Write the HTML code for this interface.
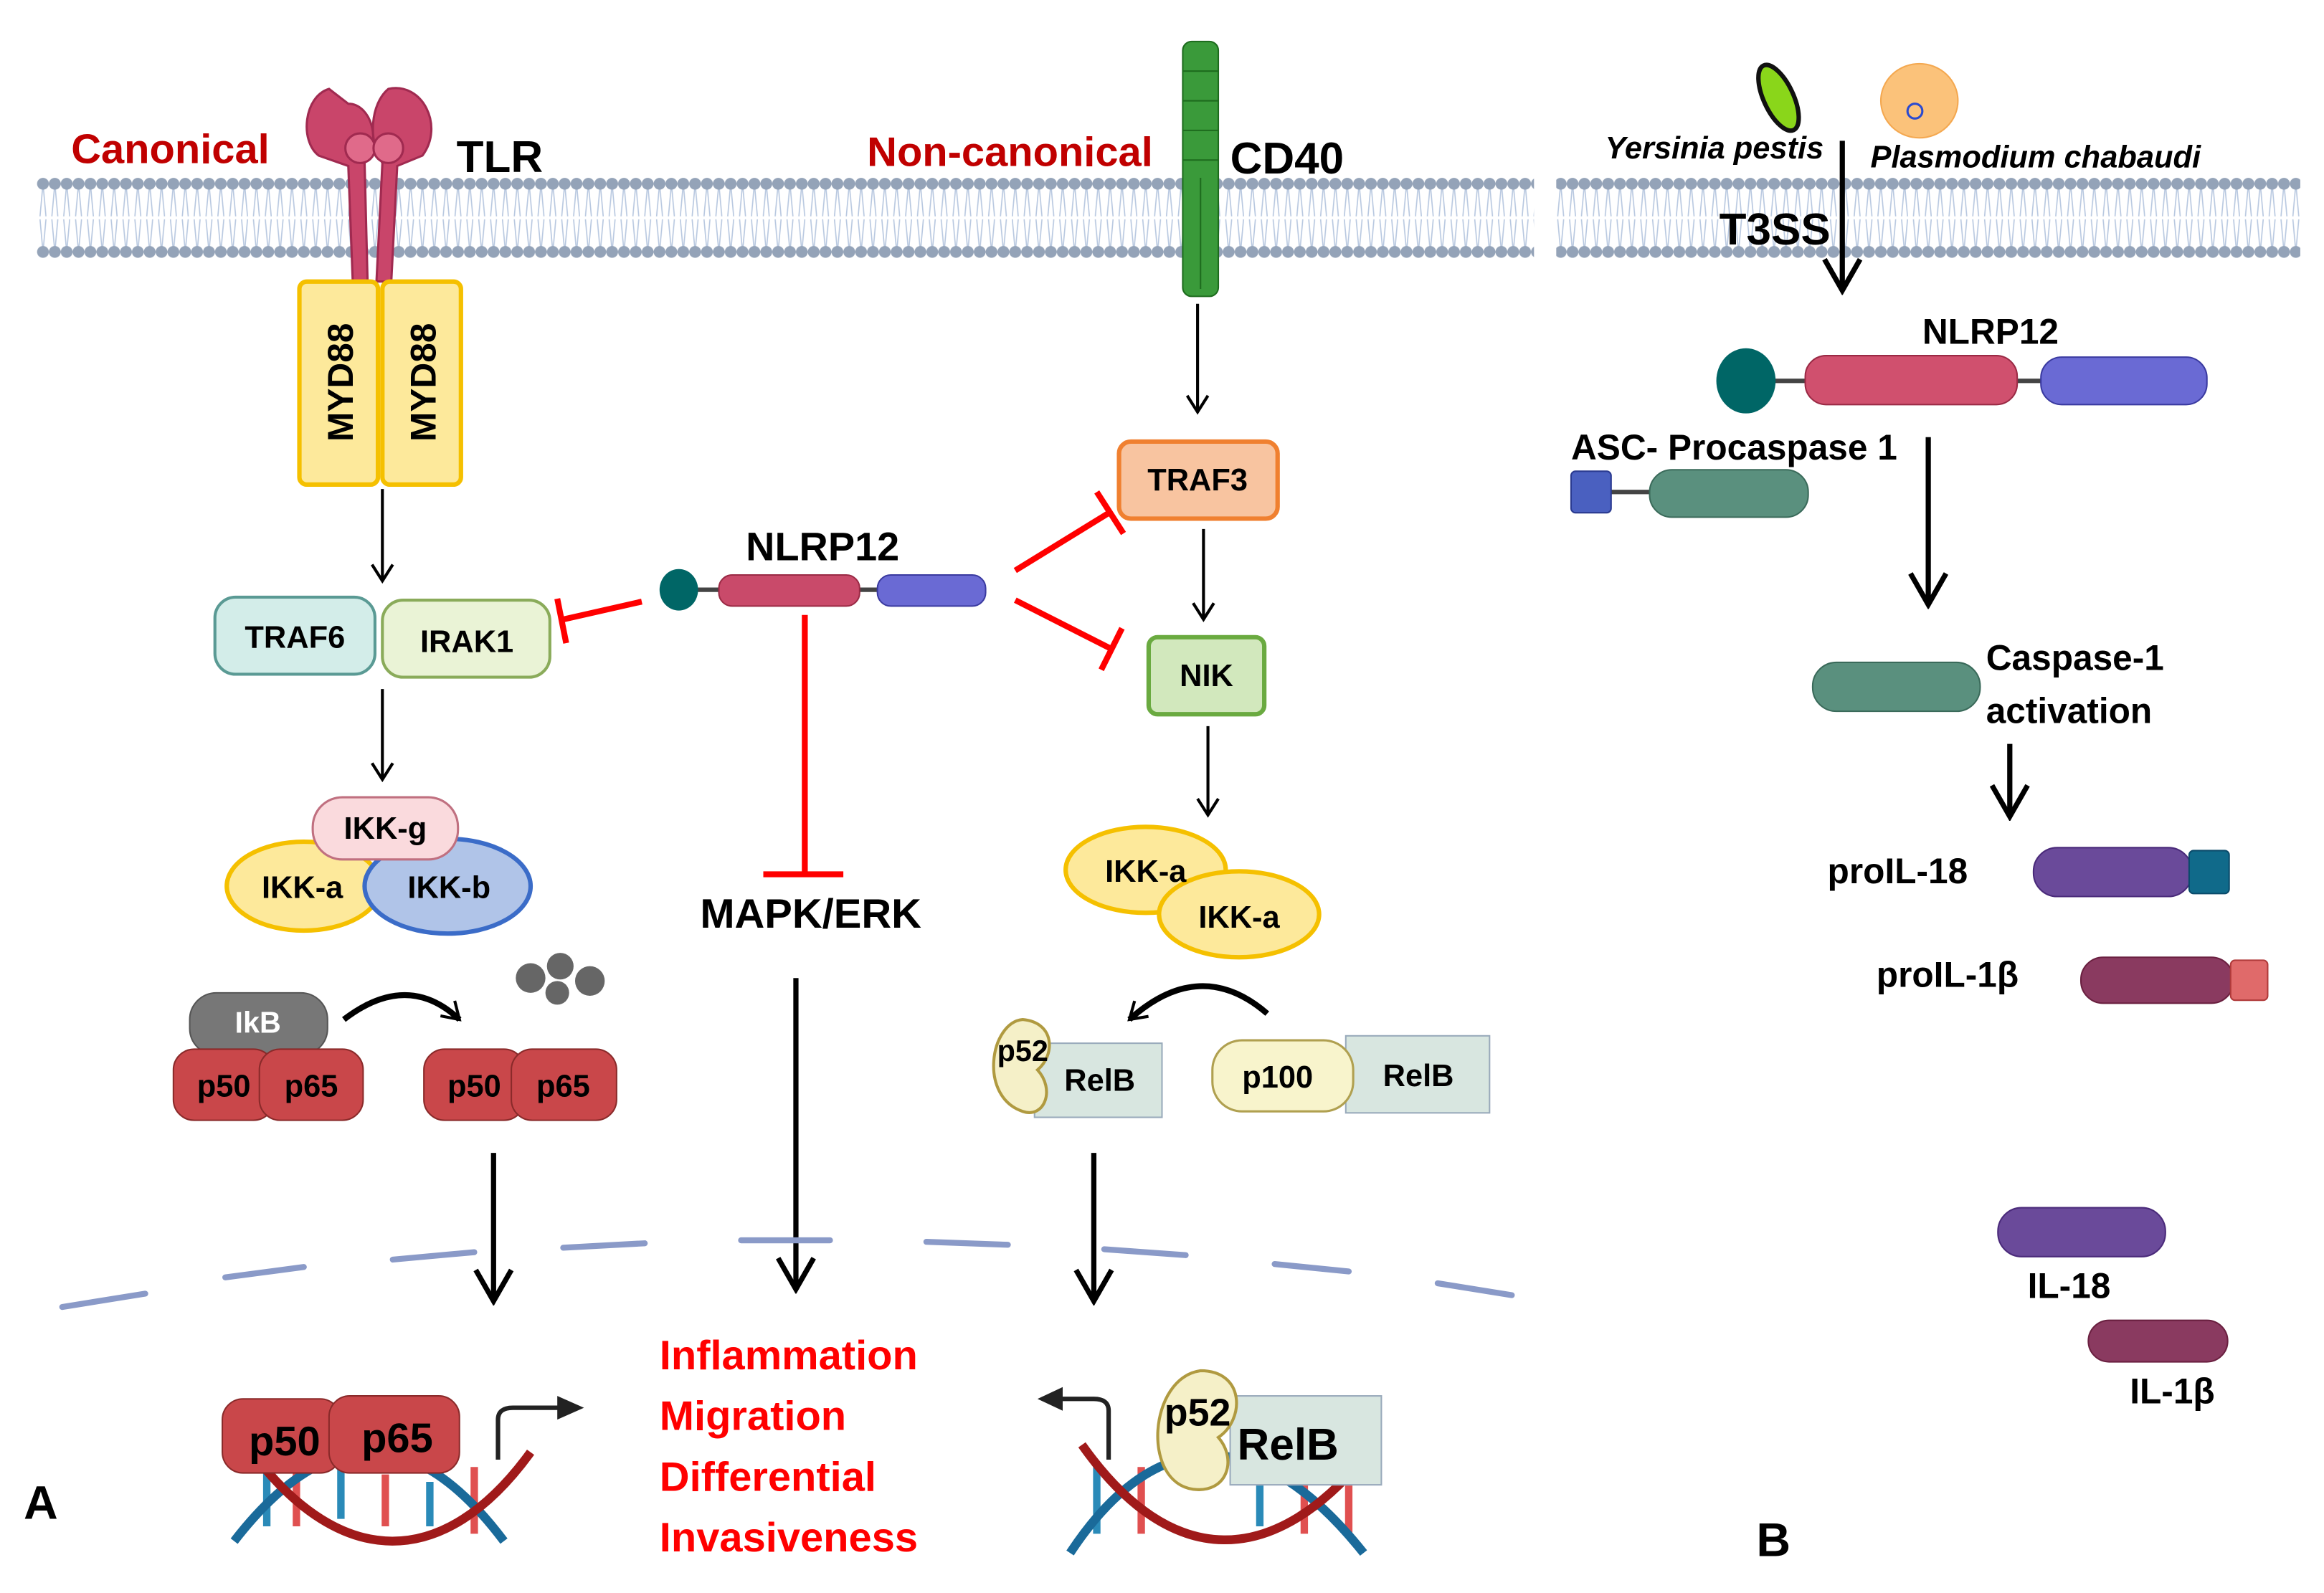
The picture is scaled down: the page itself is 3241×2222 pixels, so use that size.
<!DOCTYPE html>
<html><head><meta charset="utf-8"><style>
html,body{margin:0;padding:0;background:#fff;}
svg{display:block;}
text{font-family:"Liberation Sans Narrow","Liberation Sans",sans-serif;font-weight:bold;}
</style></head><body>
<svg width="3241" height="2222" viewBox="0 0 1568 1075" preserveAspectRatio="none" xmlns="http://www.w3.org/2000/svg">
<defs>
<pattern id="mem" x="25" y="119" width="8" height="56" patternUnits="userSpaceOnUse">
<line x1="4" y1="5" x2="2" y2="27" stroke="#b8c8e0" stroke-width="0.8"/><line x1="4" y1="5" x2="6" y2="27" stroke="#b8c8e0" stroke-width="0.8"/>
<line x1="4" y1="51" x2="2" y2="29" stroke="#b8c8e0" stroke-width="0.8"/><line x1="4" y1="51" x2="6" y2="29" stroke="#b8c8e0" stroke-width="0.8"/>
<circle cx="4" cy="5" r="4" fill="#94a3b8"/><circle cx="4" cy="51" r="4" fill="#94a3b8"/>
</pattern>
<marker id="ah" markerWidth="16" markerHeight="16" refX="14" refY="8" orient="auto" markerUnits="userSpaceOnUse" viewBox="0 0 16 16"><path d="M3,1 L14,8 L3,15" fill="none" stroke="#000" stroke-width="2"/></marker>
<marker id="ahb" markerWidth="28" markerHeight="28" refX="25" refY="14" orient="auto" markerUnits="userSpaceOnUse" viewBox="0 0 28 28"><path d="M4,2 L25,14 L4,26" fill="none" stroke="#000" stroke-width="3.5"/></marker>
</defs>
<rect width="1568" height="1075" fill="#fff"/>
<rect x="25" y="119" width="1010" height="56" fill="url(#mem)"/>
<rect x="1050" y="119" width="502" height="56" fill="url(#mem)"/>

<g fill="#c9456a" stroke="#a02a50" stroke-width="1.5">
<path d="M222,60 C205,65 202,95 215,105 L235,112 L238,190 L248,190 L246,110 C258,95 250,70 235,70 Z"/>
<path d="M262,60 C285,55 300,85 285,105 L268,112 L264,190 L254,190 L258,110 C248,95 250,70 262,60 Z"/>
<circle cx="243" cy="100" r="10" fill="#e06a8a"/><circle cx="262" cy="100" r="10" fill="#e06a8a"/>
</g>
<text x="48" y="110" font-size="28" fill="#c00000">Canonical</text>
<text x="308" y="116" font-size="30" fill="#000">TLR</text>
<text x="585" y="112" font-size="28" fill="#c00000">Non-canonical</text>
<g fill="#3a9a3a" stroke="#1d6b1d" stroke-width="1">
<rect x="798" y="28" width="24" height="172" rx="6"/>
<line x1="798" y1="48" x2="822" y2="48"/><line x1="798" y1="68" x2="822" y2="68"/><line x1="798" y1="88" x2="822" y2="88"/><line x1="798" y1="108" x2="822" y2="108"/><line x1="810" y1="120" x2="810" y2="195"/>
</g>
<text x="830" y="117" font-size="30" fill="#000">CD40</text>

<rect x="202" y="190" width="53" height="137" rx="5" fill="#fde99b" stroke="#f5c000" stroke-width="3"/>
<rect x="258" y="190" width="53" height="137" rx="5" fill="#fde99b" stroke="#f5c000" stroke-width="3"/>
<text transform="translate(238,258) rotate(-90)" font-size="24" text-anchor="middle">MYD88</text>
<text transform="translate(294,258) rotate(-90)" font-size="24" text-anchor="middle">MYD88</text>
<line x1="258" y1="330" x2="258" y2="392" stroke="#000" stroke-width="2" marker-end="url(#ah)"/>

<rect x="145" y="403" width="108" height="52" rx="14" fill="#d3ede9" stroke="#5a9a94" stroke-width="2"/>
<text x="199" y="437" font-size="21" text-anchor="middle">TRAF6</text>
<rect x="258" y="405" width="113" height="52" rx="14" fill="#eaf3d6" stroke="#8aab5a" stroke-width="2"/>
<text x="315" y="440" font-size="21" text-anchor="middle">IRAK1</text>
<line x1="258" y1="465" x2="258" y2="526" stroke="#000" stroke-width="2" marker-end="url(#ah)"/>

<ellipse cx="205" cy="598" rx="52" ry="30" fill="#fde99b" stroke="#f5c000" stroke-width="3"/>
<ellipse cx="302" cy="598" rx="56" ry="32" fill="#b0c4e8" stroke="#3b6cc8" stroke-width="3"/>
<rect x="211" y="538" width="98" height="42" rx="20" fill="#fadadd" stroke="#c07080" stroke-width="1.5"/>
<text x="260" y="566" font-size="21" text-anchor="middle">IKK-g</text>
<text x="204" y="606" font-size="21" text-anchor="middle">IKK-a</text>
<text x="303" y="606" font-size="21" text-anchor="middle">IKK-b</text>

<rect x="128" y="670" width="93" height="42" rx="18" fill="#777" stroke="#555"/>
<text x="174" y="697" font-size="20" fill="#fff" text-anchor="middle">IkB</text>
<rect x="117" y="708" width="68" height="48" rx="14" fill="#c9474a" stroke="#8a2a2a"/>
<rect x="175" y="708" width="70" height="48" rx="14" fill="#c9474a" stroke="#8a2a2a"/>
<text x="151" y="740" font-size="21" text-anchor="middle">p50</text>
<text x="210" y="740" font-size="21" text-anchor="middle">p65</text>
<path d="M232,688 Q275,655 310,688" fill="none" stroke="#000" stroke-width="4" marker-end="url(#ah)"/>
<g fill="#666"><circle cx="358" cy="660" r="10"/><circle cx="378" cy="652" r="9"/><circle cx="398" cy="662" r="10"/><circle cx="376" cy="670" r="8"/></g>
<rect x="286" y="708" width="68" height="48" rx="14" fill="#c9474a" stroke="#8a2a2a"/>
<rect x="345" y="708" width="71" height="48" rx="14" fill="#c9474a" stroke="#8a2a2a"/>
<text x="320" y="740" font-size="21" text-anchor="middle">p50</text>
<text x="380" y="740" font-size="21" text-anchor="middle">p65</text>
<line x1="333" y1="778" x2="333" y2="878" stroke="#000" stroke-width="3.5" marker-end="url(#ahb)"/>

<text x="555" y="378" font-size="27" text-anchor="middle">NLRP12</text>
<line x1="465" y1="398" x2="600" y2="398" stroke="#444" stroke-width="3"/>
<ellipse cx="458" cy="398" rx="13" ry="14" fill="#006666"/>
<rect x="485" y="388" width="95" height="21" rx="9" fill="#c94a6a" stroke="#9a2a45"/>
<rect x="592" y="388" width="73" height="21" rx="9" fill="#6a6ad4" stroke="#3a3aa0"/>
<g stroke="#ff0000" stroke-width="4" fill="none">
<line x1="433" y1="406" x2="380" y2="418"/><line x1="376" y1="404" x2="382" y2="434"/>
<line x1="685" y1="385" x2="750" y2="345"/><line x1="740" y1="332" x2="758" y2="360"/>
<line x1="685" y1="405" x2="750" y2="438"/><line x1="757" y1="424" x2="743" y2="452"/>
<line x1="543" y1="415" x2="543" y2="590"/><line x1="515" y1="590" x2="569" y2="590"/>
</g>
<text x="547" y="626" font-size="28" text-anchor="middle">MAPK/ERK</text>
<line x1="537" y1="660" x2="537" y2="870" stroke="#000" stroke-width="3.5" marker-end="url(#ahb)"/>

<line x1="808" y1="205" x2="808" y2="278" stroke="#000" stroke-width="2" marker-end="url(#ah)"/>
<rect x="755" y="298" width="107" height="52" rx="8" fill="#f8c4a0" stroke="#f08030" stroke-width="3"/>
<text x="808" y="331" font-size="21" text-anchor="middle">TRAF3</text>
<line x1="812" y1="357" x2="812" y2="418" stroke="#000" stroke-width="2" marker-end="url(#ah)"/>
<rect x="775" y="430" width="78" height="52" rx="6" fill="#d2e8bd" stroke="#6aaa40" stroke-width="3"/>
<text x="814" y="463" font-size="21" text-anchor="middle">NIK</text>
<line x1="815" y1="490" x2="815" y2="550" stroke="#000" stroke-width="2" marker-end="url(#ah)"/>
<ellipse cx="773" cy="587" rx="54" ry="29" fill="#fde99b" stroke="#f5c000" stroke-width="3"/>
<ellipse cx="836" cy="617" rx="54" ry="29" fill="#fde99b" stroke="#f5c000" stroke-width="3"/>
<text x="773" y="595" font-size="21" text-anchor="middle">IKK-a</text>
<text x="836" y="626" font-size="21" text-anchor="middle">IKK-a</text>
<path d="M855,684 Q810,645 762,688" fill="none" stroke="#000" stroke-width="4" marker-end="url(#ah)"/>
<rect x="698" y="704" width="86" height="50" fill="#d8e6e0" stroke="#9ab"/>
<path d="M690,688 C668,690 660,740 690,750 C705,755 712,735 700,722 C712,712 712,690 690,688 Z" fill="#f5f0c8" stroke="#b09a40" stroke-width="2"/>
<text x="690" y="716" font-size="20" text-anchor="middle">p52</text>
<text x="742" y="736" font-size="21" text-anchor="middle">RelB</text>
<rect x="908" y="699" width="97" height="52" fill="#d8e6e0" stroke="#9ab"/>
<rect x="818" y="702" width="95" height="48" rx="20" fill="#f8f4cc" stroke="#b0a050" stroke-width="1.5"/>
<text x="862" y="734" font-size="21" text-anchor="middle">p100</text>
<text x="957" y="733" font-size="21" text-anchor="middle">RelB</text>
<line x1="738" y1="778" x2="738" y2="878" stroke="#000" stroke-width="3.5" marker-end="url(#ahb)"/>

<g stroke="#8a9ac8" stroke-width="4" stroke-linecap="round">
<line x1="42" y1="882" x2="98" y2="873"/><line x1="152" y1="862" x2="205" y2="855"/><line x1="265" y1="850" x2="320" y2="845"/>
<line x1="380" y1="842" x2="435" y2="839"/><line x1="500" y1="837" x2="560" y2="837"/><line x1="625" y1="838" x2="680" y2="840"/>
<line x1="745" y1="843" x2="800" y2="847"/><line x1="860" y1="853" x2="910" y2="858"/><line x1="970" y1="866" x2="1020" y2="874"/>
</g>

<g stroke-width="5">
<line x1="180" y1="990" x2="180" y2="1030" stroke="#2a8ab8"/><line x1="200" y1="985" x2="200" y2="1030" stroke="#e05050"/>
<line x1="230" y1="990" x2="230" y2="1025" stroke="#2a8ab8"/><line x1="260" y1="995" x2="260" y2="1030" stroke="#e05050"/>
<line x1="290" y1="1000" x2="290" y2="1030" stroke="#2a8ab8"/><line x1="320" y1="990" x2="320" y2="1035" stroke="#e05050"/>
</g>
<path d="M158,1040 C220,960 280,960 340,1040" fill="none" stroke="#1a6a9a" stroke-width="6"/>
<path d="M170,980 C230,1060 300,1060 358,980" fill="none" stroke="#a01a1a" stroke-width="6"/>
<rect x="150" y="944" width="80" height="50" rx="14" fill="#c9474a" stroke="#8a2a2a"/>
<rect x="222" y="942" width="88" height="52" rx="14" fill="#c9474a" stroke="#8a2a2a"/>
<text x="192" y="982" font-size="28" text-anchor="middle">p50</text>
<text x="268" y="980" font-size="28" text-anchor="middle">p65</text>
<path d="M336,985 L336,958 Q336,950 346,950 L378,950" fill="none" stroke="#222" stroke-width="3"/>
<path d="M376,942 L394,950 L376,958 Z" fill="#222"/>

<text font-size="28" fill="#ff0000"><tspan x="445" y="924">Inflammation</tspan><tspan x="445" y="965">Migration</tspan><tspan x="445" y="1006">Differential</tspan><tspan x="445" y="1047">Invasiveness</tspan></text>

<g stroke-width="5">
<line x1="740" y1="990" x2="740" y2="1035" stroke="#2a8ab8"/><line x1="770" y1="990" x2="770" y2="1035" stroke="#e05050"/>
<line x1="850" y1="995" x2="850" y2="1030" stroke="#2a8ab8"/><line x1="880" y1="990" x2="880" y2="1035" stroke="#e05050"/>
<line x1="910" y1="985" x2="910" y2="1035" stroke="#e05050"/>
</g>
<path d="M722,1048 C780,960 850,960 920,1048" fill="none" stroke="#1a6a9a" stroke-width="6"/>
<path d="M730,975 C790,1060 860,1060 925,978" fill="none" stroke="#a01a1a" stroke-width="6"/>
<rect x="830" y="942" width="102" height="60" fill="#d8e6e0" stroke="#9ab"/>
<path d="M810,925 C775,930 770,1000 805,1005 C828,1008 835,985 822,970 C840,958 840,925 810,925 Z" fill="#f5f0c8" stroke="#b09a40" stroke-width="2"/>
<text x="808" y="962" font-size="26" text-anchor="middle">p52</text>
<text x="869" y="985" font-size="30" text-anchor="middle">RelB</text>
<path d="M748,985 L748,952 Q748,944 738,944 L715,944" fill="none" stroke="#222" stroke-width="3"/>
<path d="M717,936 L700,944 L717,952 Z" fill="#222"/>

<text x="16" y="1025" font-size="32">A</text>

<ellipse cx="1200" cy="66" rx="10" ry="24" transform="rotate(-25 1200 66)" fill="#8ad61a" stroke="#111" stroke-width="3"/>
<ellipse cx="1295" cy="68" rx="26" ry="25" fill="#fbc27a" stroke="#f4a850" stroke-width="1"/>
<circle cx="1292" cy="75" r="5" fill="none" stroke="#2a4ad0" stroke-width="1.5"/>
<text x="1083" y="107" font-size="21" font-style="italic">Yersinia pestis</text>
<text x="1262" y="113" font-size="21" font-style="italic">Plasmodium chabaudi</text>
<text x="1160" y="165" font-size="30">T3SS</text>
<line x1="1243" y1="95" x2="1243" y2="196" stroke="#000" stroke-width="3.5" marker-end="url(#ahb)"/>
<text x="1343" y="232" font-size="24" text-anchor="middle">NLRP12</text>
<line x1="1180" y1="257" x2="1390" y2="257" stroke="#444" stroke-width="3"/>
<ellipse cx="1178" cy="257" rx="20" ry="22" fill="#006666"/>
<rect x="1218" y="240" width="143" height="33" rx="14" fill="#d0506e" stroke="#9a2a45"/>
<rect x="1377" y="241" width="112" height="32" rx="14" fill="#6a6ad4" stroke="#3a3aa0"/>
<text x="1060" y="310" font-size="24">ASC- Procaspase 1</text>
<line x1="1070" y1="332" x2="1130" y2="332" stroke="#444" stroke-width="3"/>
<rect x="1060" y="318" width="27" height="28" rx="3" fill="#4a60c0" stroke="#2a3a90"/>
<rect x="1113" y="317" width="107" height="32" rx="15" fill="#5a907e" stroke="#3a6a5a"/>
<line x1="1301" y1="295" x2="1301" y2="408" stroke="#000" stroke-width="3.5" marker-end="url(#ahb)"/>
<rect x="1223" y="447" width="113" height="33" rx="16" fill="#5a907e" stroke="#3a6a5a"/>
<text x="1340" y="452" font-size="24">Caspase-1</text>
<text x="1340" y="488" font-size="24">activation</text>
<line x1="1356" y1="502" x2="1356" y2="551" stroke="#000" stroke-width="3.5" marker-end="url(#ahb)"/>
<text x="1233" y="596" font-size="24">proIL-18</text>
<rect x="1372" y="572" width="107" height="33" rx="16" fill="#6a4a9a" stroke="#4a2a7a"/>
<rect x="1477" y="574" width="27" height="29" rx="3" fill="#106a8a" stroke="#0a4a6a"/>
<text x="1266" y="666" font-size="24">proIL-1β</text>
<rect x="1404" y="646" width="103" height="31" rx="15" fill="#8a3a60" stroke="#6a2040"/>
<rect x="1505" y="648" width="25" height="27" rx="3" fill="#e06a6a" stroke="#b03a3a"/>
<rect x="1348" y="815" width="113" height="33" rx="16" fill="#6a4a9a" stroke="#4a2a7a"/>
<text x="1368" y="876" font-size="24">IL-18</text>
<rect x="1409" y="891" width="94" height="28" rx="14" fill="#8a3a60" stroke="#6a2040"/>
<text x="1437" y="947" font-size="24">IL-1β</text>
<text x="1185" y="1050" font-size="32">B</text>
</svg>
</body></html>
